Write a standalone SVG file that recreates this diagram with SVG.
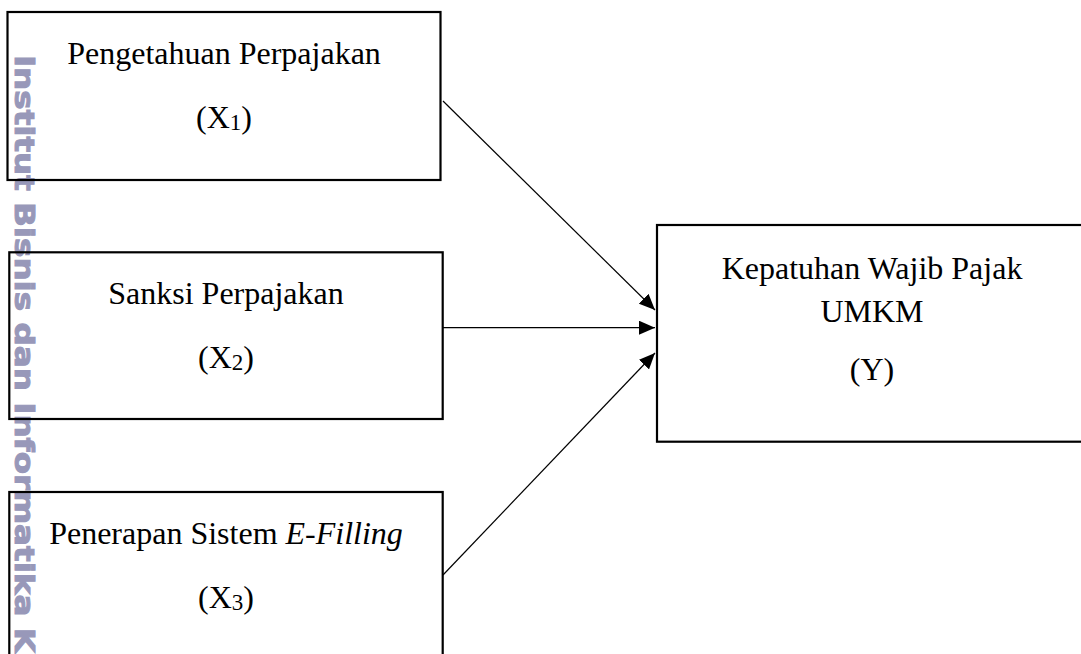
<svg xmlns="http://www.w3.org/2000/svg" width="1081" height="654" viewBox="0 0 1081 654">
<style>
.box{fill:none;stroke:#000;stroke-width:2.2}
.t{font-family:"Liberation Serif","Times New Roman",serif;font-size:32px;fill:#000;text-anchor:middle}
.sub{font-size:23px}
.wm{font-family:"DejaVu Sans",sans-serif;font-weight:bold;font-size:27px;fill:#9898b9;stroke:#9898b9;stroke-width:1}
.conn{stroke:#000;stroke-width:1.2;fill:none}
</style>
<defs>
<marker id="ah" markerUnits="userSpaceOnUse" markerWidth="16" markerHeight="14" refX="16" refY="7" orient="auto">
<path d="M0,0 L16,7 L0,14 z" fill="#000"/>
</marker>
</defs>
<rect width="1081" height="654" fill="#fff"/>
<text class="wm" transform="translate(15,55) rotate(90)" textLength="598" lengthAdjust="spacingAndGlyphs">Institut Bisnis dan Informatika K</text>
<g id="x1">
<rect class="box" x="7.5" y="12" width="433" height="168"/>
<text class="t" x="224" y="64">Pengetahuan Perpajakan</text>
<text class="t" x="224" y="128">(X<tspan class="sub" dy="2">1</tspan><tspan dy="-2">)</tspan></text>
</g>
<g id="x2">
<rect class="box" x="9.3" y="252.3" width="433.4" height="166.7"/>
<text class="t" x="226" y="304">Sanksi Perpajakan</text>
<text class="t" x="226" y="368">(X<tspan class="sub" dy="2">2</tspan><tspan dy="-2">)</tspan></text>
</g>
<g id="x3">
<rect class="box" x="9.3" y="492" width="433.4" height="180"/>
<text class="t" x="226" y="544">Penerapan Sistem <tspan font-style="italic">E-Filling</tspan></text>
<text class="t" x="226" y="608">(X<tspan class="sub" dy="2">3</tspan><tspan dy="-2">)</tspan></text>
</g>
<g id="y">
<rect class="box" x="657" y="225" width="430" height="216.7"/>
<text class="t" x="872" y="279">Kepatuhan Wajib Pajak</text>
<text class="t" x="872" y="322">UMKM</text>
<text class="t" x="872" y="380">(Y)</text>
</g>
<g id="connectors">
<line class="conn" x1="443" y1="101" x2="655" y2="310" marker-end="url(#ah)"/>
<line class="conn" x1="443" y1="327.7" x2="655" y2="327.7" marker-end="url(#ah)"/>
<line class="conn" x1="443" y1="575" x2="655" y2="353" marker-end="url(#ah)"/>
</g>
</svg>
